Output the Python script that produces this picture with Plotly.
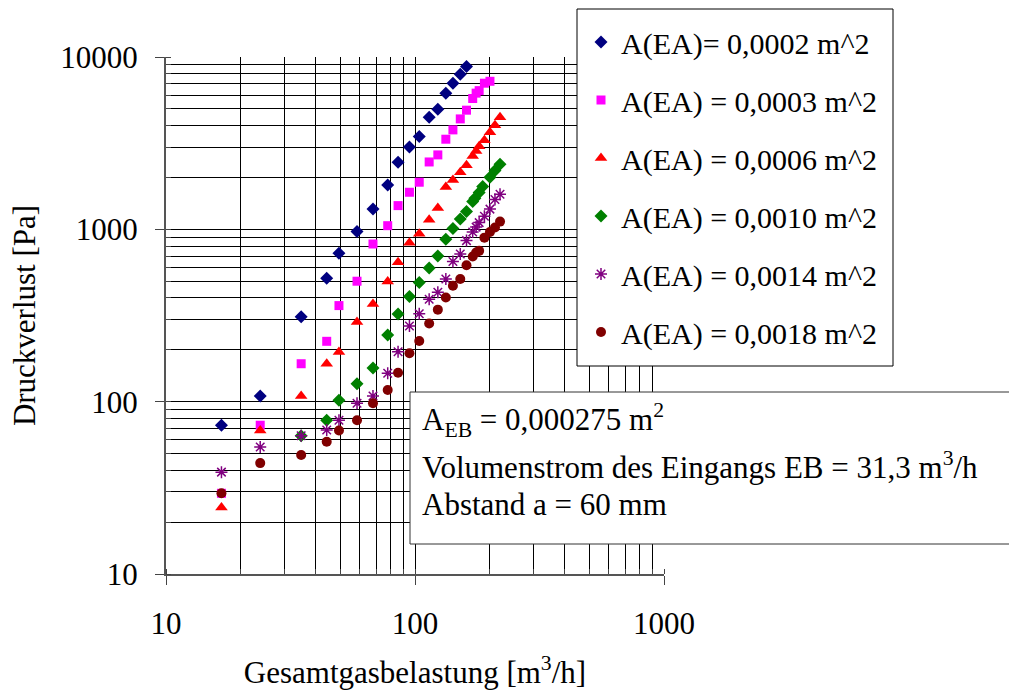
import plotly.graph_objects as go

names = ["A(EA)= 0,0002 m^2", "A(EA) = 0,0003 m^2", "A(EA) = 0,0006 m^2",
         "A(EA) = 0,0010 m^2", "A(EA) = 0,0014 m^2", "A(EA) = 0,0018 m^2"]

x_navy = [16.7, 23.9, 34.9, 44.2, 49.5, 58.5, 67.8, 77.7, 85.5, 95, 104, 114, 123.5, 133, 142, 152, 161]
y_navy = [73, 108, 311, 520, 727, 970, 1313, 1810, 2450, 3000, 3455, 4475, 4980, 6170, 7050, 7950, 8800]

x_mag = [16.7, 23.9, 34.9, 44.2, 49.5, 58.5, 67.8, 77.7, 85.5, 95, 104, 114, 123.5, 133, 142, 152, 161, 170.5, 176, 181, 190, 200]
y_mag = [29.4, 73, 166, 224, 361, 500, 822, 1050, 1373, 1641, 1877, 2460, 2703, 3334, 3776, 4373, 4914, 5745, 6170, 6380, 7046, 7230]

x_red = [16.7, 23.9, 34.9, 44.2, 49.5, 58.5, 67.8, 77.7, 85.5, 95, 104, 114, 123.5, 133, 142, 152, 161, 170.5, 176, 181, 190, 200, 209.5, 219.5]
y_red = [24.3, 68, 108, 166, 194, 290, 369, 498, 645, 837, 944, 1137, 1330, 1762, 1935, 2145, 2355, 2666, 2850, 3035, 3290, 3658, 4015, 4475]

x_green = [34.9, 44.2, 49.5, 58.5, 67.8, 77.7, 85.5, 95, 104, 114, 123.5, 133, 142, 152, 161, 170.5, 174, 181, 187, 200, 209.5, 219.5]
y_green = [63.5, 78, 102, 127, 157, 244, 323, 407, 491, 597, 701, 877, 1010, 1147, 1270, 1449, 1516, 1634, 1770, 2006, 2192, 2388]

x_purple = [16.7, 23.9, 34.9, 44.2, 49.5, 58.5, 67.8, 77.7, 85.5, 95, 104, 114, 123.5, 133, 142, 152, 161, 170.5, 176, 181, 190, 200, 209.5, 219.5]
y_purple = [39, 54.6, 63.5, 68.5, 78, 98, 108, 146, 195, 275, 324, 393, 431, 515, 650, 720, 860, 965, 1030, 1094, 1190, 1310, 1490, 1600]

x_dred = [16.7, 23.9, 34.9, 44.2, 49.5, 58.5, 67.8, 77.7, 85.5, 95, 104, 114, 123.5, 133, 142, 152, 161, 170.5, 176, 181, 190, 200, 209.5, 219.5]
y_dred = [29.4, 44, 49, 58.6, 68, 78, 98, 117, 147, 191, 225, 284, 342, 402, 471, 515, 619, 695, 733, 750, 895, 966, 1025, 1109]

tick_vals_x = [10, 100, 1000]
tick_text_x = ["10", "100", "1000"]
tick_vals_y = [10, 100, 1000, 10000]
tick_text_y = ["10", "100", "1000", "10000"]

series = [
    (x_navy, y_navy, "#000080", "diamond", 10, False),
    (x_mag, y_mag, "#FF00FF", "square", 9, False),
    (x_red, y_red, "#FF0000", "triangle-up", 11, False),
    (x_green, y_green, "#008000", "diamond", 10, False),
    (x_purple, y_purple, "#800080", "asterisk-open", 10, True),
    (x_dred, y_dred, "#800000", "circle", 10, False),
]

FONT = "Liberation Serif, Times New Roman, serif"

fig = go.Figure()
for i, (xs, ys, col, sym, sz, open_) in enumerate(series):
    marker = dict(color=col, symbol=sym, size=sz)
    if open_:
        marker["line"] = dict(color=col, width=1.5)
    else:
        marker["line"] = dict(width=0)
    fig.add_trace(go.Scatter(x=xs, y=ys, mode="markers", name=names[i],
                             marker=marker, legendgroup=f"g{i}"))

L, R, T, B = 166, 664, 57, 574
W, H = 1009, 696

def px_x(p):
    return (p - L) / (R - L)

def px_y(p):
    return (B - p) / (B - T)

axis_common = dict(
    type="log",
    showgrid=True, gridcolor="black", gridwidth=1,
    ticks="outside", ticklen=9, tickcolor="#444", tickwidth=1,
    minor=dict(showgrid=True, gridcolor="black", gridwidth=1,
               ticks="inside", ticklen=5, tickcolor="#444", dtick="D1"),
    showline=True, linecolor="#555", linewidth=2,
    zeroline=False,
    tickfont=dict(family=FONT, size=31, color="black"),
    tickmode="array",
)

fig.update_layout(
    width=W, height=H,
    margin=dict(l=L, r=W - R, t=T, b=H - B),
    paper_bgcolor="white", plot_bgcolor="white",
    font=dict(family=FONT, color="black"),
    xaxis=dict(range=[1, 3], ticklabelstandoff=12,
               tickvals=tick_vals_x, ticktext=tick_text_x,
               title=dict(text="Gesamtgasbelastung [m<sup>3</sup>/h]",
                          font=dict(family=FONT, size=31), standoff=21),
               **axis_common),
    yaxis=dict(range=[1, 4], ticklabelstandoff=11,
               tickvals=tick_vals_y, ticktext=tick_text_y,
               title=dict(text="Druckverlust [Pa]",
                          font=dict(family=FONT, size=31), standoff=15),
               **axis_common),
    showlegend=True,
    legend=dict(x=px_x(581), y=px_y(16), xanchor="left", yanchor="top",
                bgcolor="rgba(0,0,0,0)", borderwidth=0,
                font=dict(family=FONT, size=30, color="black"),
                tracegroupgap=16, traceorder="grouped", itemwidth=30),
)

# legend box
fig.add_shape(type="rect", xref="paper", yref="paper",
              x0=px_x(577), x1=px_x(893), y0=px_y(366), y1=px_y(9),
              fillcolor="white", line=dict(color="black", width=1), layer="above")
# info box
fig.add_shape(type="rect", xref="paper", yref="paper",
              x0=px_x(410), x1=px_x(1012), y0=px_y(544), y1=px_y(392),
              fillcolor="white", line=dict(color="#333", width=1), layer="above")

info_lines = [
    ("A<sub>EB</sub> = 0,000275 m<sup>2</sup>", 420),
    ("Volumenstrom des Eingangs EB = 31,3 m<sup>3</sup>/h", 465),
    ("Abstand a = 60 mm", 504),
]
for txt, yc in info_lines:
    fig.add_annotation(text=txt, xref="paper", yref="paper",
                       x=px_x(420), y=px_y(yc), xanchor="left", yanchor="middle",
                       showarrow=False, font=dict(family=FONT, size=31, color="black"))

fig.write_html("out.html")
